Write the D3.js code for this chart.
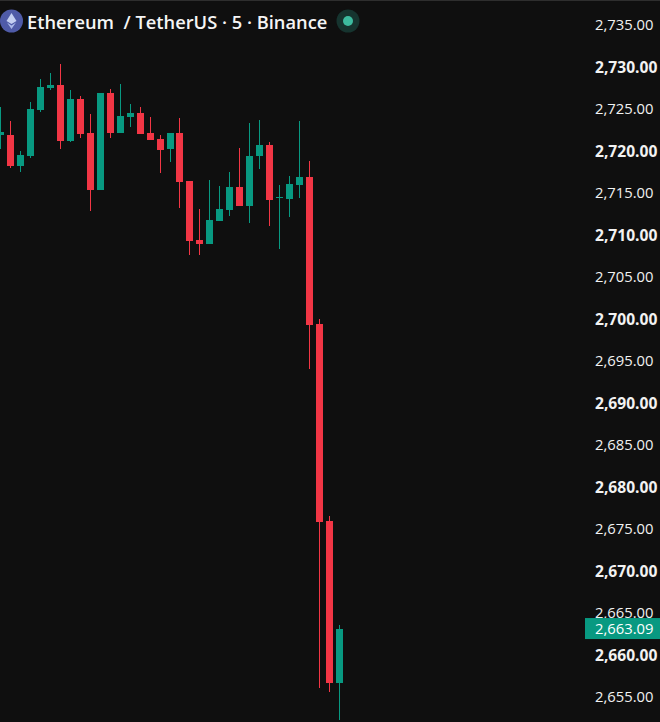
<!DOCTYPE html>
<html>
<head>
<meta charset="utf-8">
<script src="https://cdn.jsdelivr.net/npm/d3@7"></script>
<style>
html, body { margin: 0; padding: 0; background: #0f0f0f; overflow: hidden; }
text { font-family: "Open Sans", "Noto Sans", sans-serif; }
</style>
</head>
<body>
<svg width="660" height="722"></svg>
<script>
var opens = [2721.90,2721.90,2718.21,2719.40,2724.88,2727.50,2727.86,2721.19,2726.19,2722.14,2715.36,2726.90,2722.14,2724.05,2724.52,2722.14,2721.43,2720.24,2722.14,2716.43,2709.40,2708.93,2711.67,2712.98,2715.71,2713.45,2719.40,2720.71,2714.40,2714.29,2715.95,2716.90,2699.40,2675.95,2656.67];
var highs = [2725.24,2723.57,2720.00,2725.83,2728.57,2729.29,2730.36,2727.26,2726.55,2724.40,2726.90,2727.38,2727.98,2725.60,2725.24,2724.05,2721.90,2722.14,2723.93,2716.43,2713.10,2716.55,2715.83,2717.50,2720.36,2723.33,2723.69,2721.07,2715.95,2717.02,2723.57,2718.81,2700.00,2676.55,2663.57];
var lows = [2720.24,2718.00,2717.50,2719.17,2724.64,2727.26,2720.24,2721.07,2721.55,2712.86,2715.36,2721.55,2722.14,2722.86,2722.02,2721.31,2717.38,2718.69,2713.21,2707.62,2707.62,2708.93,2711.67,2712.26,2713.45,2711.43,2717.86,2711.07,2708.33,2712.14,2714.40,2694.05,2656.07,2655.60,2652.26];
var closes = [2722.30,2718.21,2719.52,2725.00,2727.62,2727.86,2721.19,2726.19,2722.02,2715.36,2726.90,2722.14,2724.17,2724.52,2722.02,2721.31,2720.12,2722.14,2716.31,2709.29,2708.93,2711.79,2713.10,2715.71,2713.45,2719.40,2720.71,2714.17,2714.50,2716.07,2716.90,2699.29,2675.83,2656.67,2663.09];
var tickPrices = [2735,2730,2725,2720,2715,2710,2705,2700,2695,2690,2685,2680,2675,2670,2665,2660,2655];
var lastPrice = 2663.09;
var titleText = "Ethereum  / TetherUS · 5 · Binance";

var upColor = "#089981";
var downColor = "#f23645";

var svg = d3.select("svg");
svg.append("rect").attr("width", 660).attr("height", 722).attr("fill", "#0f0f0f");
svg.append("rect").attr("width", 660).attr("height", 1).attr("fill", "#2e2e2e");

var y = d3.scaleLinear().domain([2735, 2655]).range([25, 697]);
var x = d3.scaleLinear().domain([0, opens.length - 1]).range([0.5, 339.5]);
var bodyWidth = 7;

var candles = svg.append("g").attr("shape-rendering", "crispEdges")
	.selectAll("g").data(d3.range(opens.length)).enter().append("g");

function candleColor(i) { return closes[i] >= opens[i] ? upColor : downColor; }

// wicks
candles.append("rect")
	.attr("x", function(i) { return Math.floor(x(i)); })
	.attr("width", 1)
	.attr("y", function(i) { return Math.round(y(highs[i])); })
	.attr("height", function(i) { return Math.round(y(lows[i])) - Math.round(y(highs[i])); })
	.attr("fill", candleColor);

// bodies
candles.append("rect")
	.attr("x", function(i) { return Math.floor(x(i)) - 3; })
	.attr("width", bodyWidth)
	.attr("y", function(i) { return Math.round(y(Math.max(opens[i], closes[i]))); })
	.attr("height", function(i) {
		return Math.max(1, Math.round(y(Math.min(opens[i], closes[i]))) - Math.round(y(Math.max(opens[i], closes[i]))));
	})
	.attr("fill", candleColor);

// price axis, round tens are drawn heavier than the fives
var axis = svg.append("g")
	.attr("transform", "translate(595,0)")
	.call(d3.axisRight(y).tickValues(tickPrices).tickSize(0).tickPadding(0).tickFormat(d3.format(",.2f")));
axis.select(".domain").remove();
axis.selectAll("text")
	.attr("fill", "#f2f2f2")
	.attr("font-size", function(d) { return d % 10 === 0 ? 15.6 : 14.8; })
	.attr("font-weight", function(d) { return d % 10 === 0 ? 700 : 500; })
	.style("font-family", '"Open Sans", sans-serif');

// last price tag
svg.append("rect").attr("x", 585).attr("y", y(lastPrice) - 11).attr("width", 75).attr("height", 21).attr("fill", upColor);
svg.append("text").attr("x", 595).attr("y", y(lastPrice) + 5)
	.attr("fill", "#ffffff").attr("font-size", 14.8).attr("font-weight", 500)
	.text(d3.format(",.2f")(lastPrice));

// header
svg.append("circle").attr("cx", 11.5).attr("cy", 21).attr("r", 11.5).attr("fill", "#4f5ba8");
svg.append("path").attr("d", "M11.5 13 L16.5 21 L11.5 24 L6.5 21 Z").attr("fill", "#c5d0f2");
svg.append("path").attr("d", "M11.5 25.5 L16 22.5 L11.5 29 L7 22.5 Z").attr("fill", "#aab8ea");
svg.append("text").attr("x", 27).attr("y", 28.5)
	.attr("fill", "#f5f5f5").attr("font-size", 18.3).attr("font-weight", 600)
	.attr("xml:space", "preserve").style("white-space", "pre")
	.text(titleText);
svg.append("circle").attr("cx", 348).attr("cy", 21).attr("r", 11.5).attr("fill", "#16342f");
svg.append("circle").attr("cx", 348).attr("cy", 21).attr("r", 5).attr("fill", "#3dbb9f");
</script>
</body>
</html>
